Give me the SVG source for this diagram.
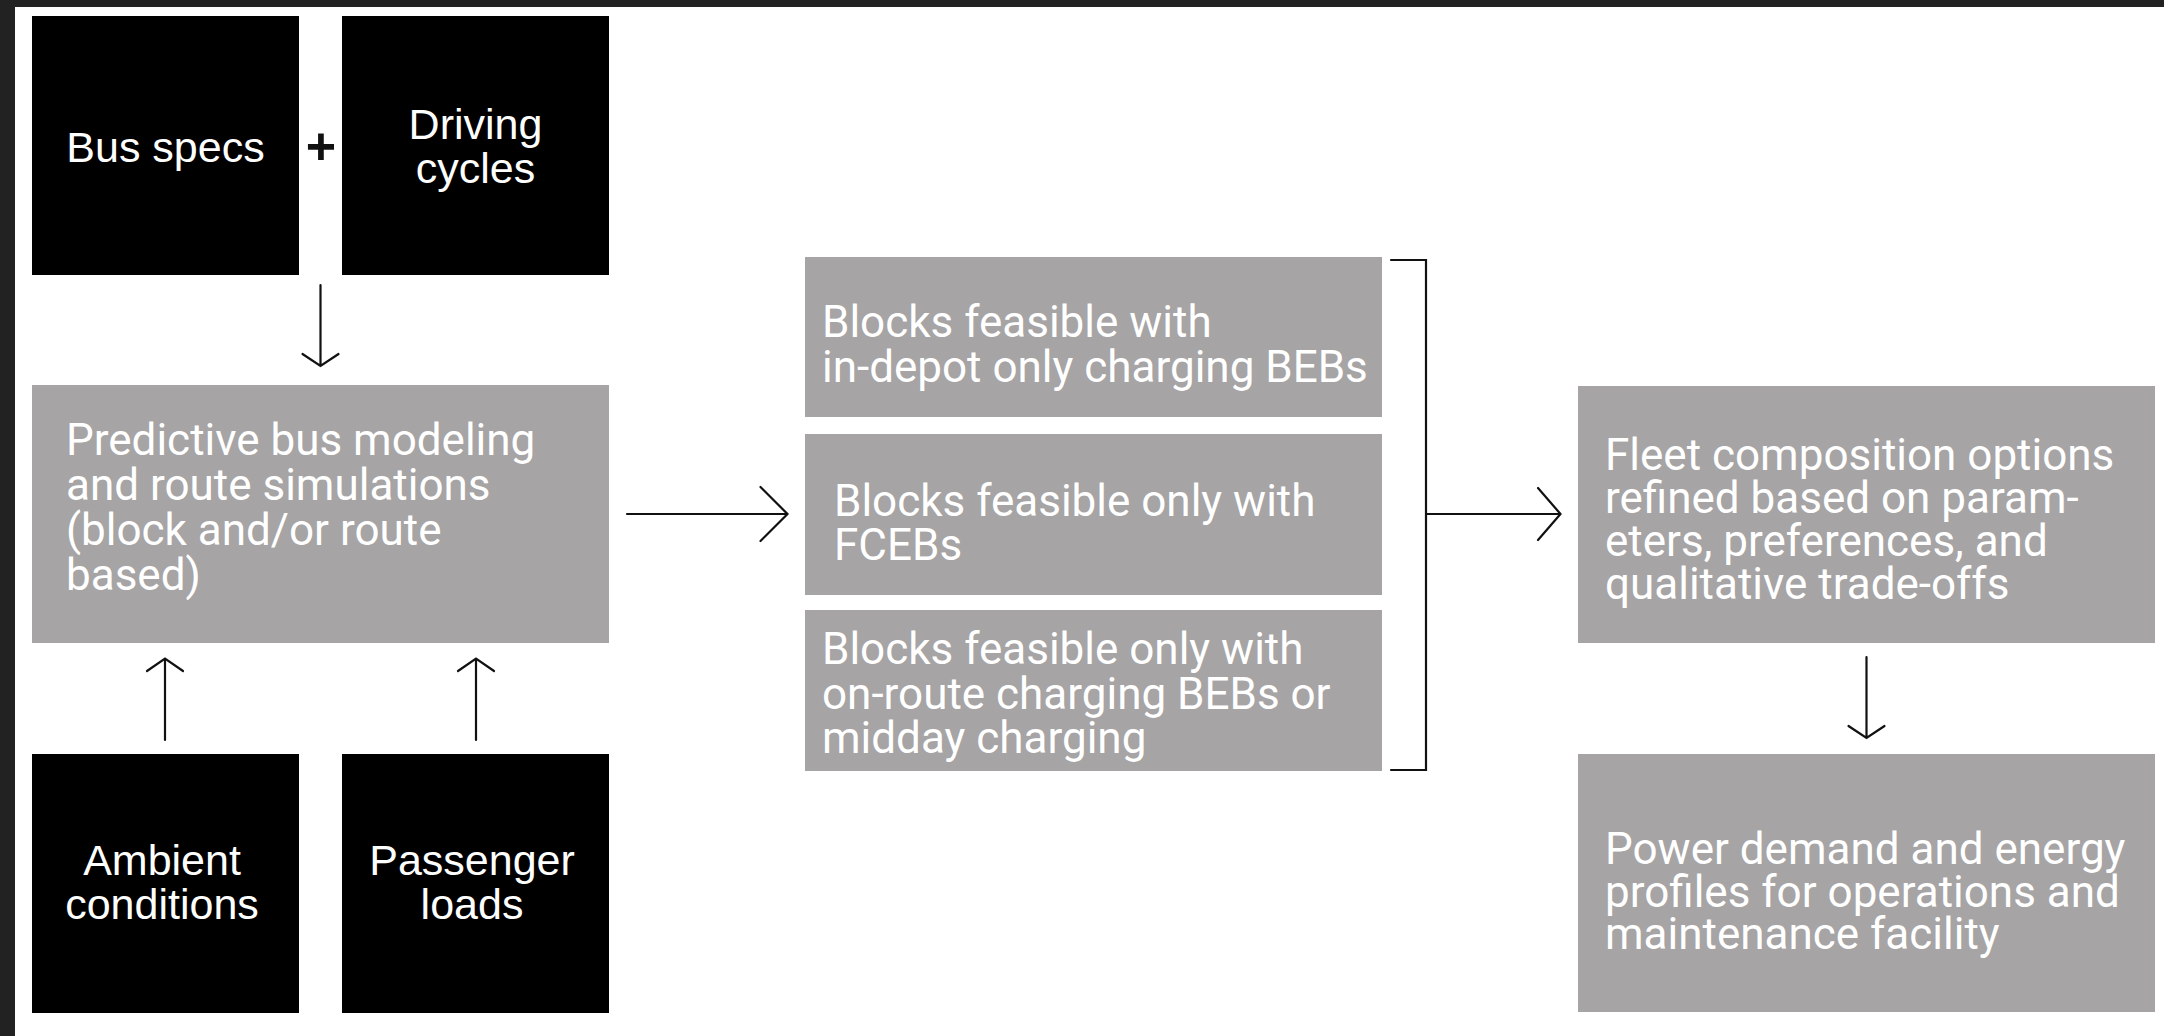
<svg xmlns="http://www.w3.org/2000/svg" width="2164" height="1036" viewBox="0 0 2164 1036">
  <style>
    .dark { fill: #000000; }
    .grey { fill: #a6a4a5; }
    .lbl-dark { font-family: "Liberation Sans", Arial, sans-serif; font-size: 43px; fill: #ffffff; text-anchor: middle; }
    .lbl-grey { font-family: Roboto, "Noto Sans", sans-serif; font-size: 44px; fill: #ffffff; }
    .wire { fill: none; stroke: #111111; stroke-width: 2.2; stroke-linecap: round; stroke-linejoin: miter; }
  </style>

  <!-- page frame -->
  <rect x="0" y="0" width="2164" height="1036" fill="#222222"/>
  <rect x="15" y="7" width="2149" height="1029" fill="#ffffff"/>

  <!-- inputs -->
  <g id="bus-specs">
    <rect class="dark" x="32" y="16" width="267" height="259"/>
    <text class="lbl-dark" x="165.5" y="162">Bus specs</text>
  </g>
  <g id="plus">
    <text x="321" y="164" font-family="Liberation Sans, Arial, sans-serif" font-size="52" font-weight="bold" fill="#111111" text-anchor="middle">+</text>
  </g>
  <g id="driving-cycles">
    <rect class="dark" x="342" y="16" width="267" height="259"/>
    <text class="lbl-dark" x="475.5" y="139">Driving</text>
    <text class="lbl-dark" x="475.5" y="183">cycles</text>
  </g>
  <g id="ambient-conditions">
    <rect class="dark" x="32" y="754" width="267" height="259"/>
    <text class="lbl-dark" x="162" y="875">Ambient</text>
    <text class="lbl-dark" x="162" y="919">conditions</text>
  </g>
  <g id="passenger-loads">
    <rect class="dark" x="342" y="754" width="267" height="259"/>
    <text class="lbl-dark" x="472" y="875">Passenger</text>
    <text class="lbl-dark" x="472" y="919">loads</text>
  </g>

  <!-- simulation -->
  <g id="predictive-modeling">
    <rect class="grey" x="32" y="385" width="577" height="258"/>
    <text class="lbl-grey" x="66" y="455">Predictive bus modeling</text>
    <text class="lbl-grey" x="66" y="500">and route simulations</text>
    <text class="lbl-grey" x="66" y="545">(block and/or route</text>
    <text class="lbl-grey" x="66" y="590">based)</text>
  </g>

  <!-- feasibility outcomes -->
  <g id="in-depot-beb">
    <rect class="grey" x="805" y="257" width="577" height="160"/>
    <text class="lbl-grey" x="822" y="337">Blocks feasible with</text>
    <text class="lbl-grey" x="822" y="382">in-depot only charging BEBs</text>
  </g>
  <g id="fceb-only">
    <rect class="grey" x="805" y="434" width="577" height="161"/>
    <text class="lbl-grey" x="834" y="516">Blocks feasible only with</text>
    <text class="lbl-grey" x="834" y="560">FCEBs</text>
  </g>
  <g id="on-route-beb">
    <rect class="grey" x="805" y="610" width="577" height="161"/>
    <text class="lbl-grey" x="822" y="664">Blocks feasible only with</text>
    <text class="lbl-grey" x="822" y="709">on-route charging BEBs or</text>
    <text class="lbl-grey" x="822" y="753">midday charging</text>
  </g>

  <!-- results -->
  <g id="fleet-composition">
    <rect class="grey" x="1578" y="386" width="577" height="257"/>
    <text class="lbl-grey" x="1605" y="470">Fleet composition options</text>
    <text class="lbl-grey" x="1605" y="513">refined based on param-</text>
    <text class="lbl-grey" x="1605" y="556">eters, preferences, and</text>
    <text class="lbl-grey" x="1605" y="599">qualitative trade-offs</text>
  </g>
  <g id="power-demand">
    <rect class="grey" x="1578" y="754" width="577" height="258"/>
    <text class="lbl-grey" x="1605" y="864">Power demand and energy</text>
    <text class="lbl-grey" x="1605" y="907">profiles for operations and</text>
    <text class="lbl-grey" x="1605" y="949">maintenance facility</text>
  </g>

  <!-- connectors -->
  <g id="connectors" class="wire">
    <!-- inputs into simulation -->
    <path d="M320.5 285 V366 M302.5 354 L320.5 366 L338.5 354"/>
    <path d="M165 740 V658.5 M147 671 L165 658.5 L183 671"/>
    <path d="M476 740 V658.5 M458 671 L476 658.5 L494 671"/>
    <!-- simulation to outcomes -->
    <path d="M627 514 H787.5 M760.5 487 L787.5 514 L760.5 541"/>
    <!-- bracket grouping outcomes -->
    <path d="M1391 260 H1426 V770 H1391"/>
    <path d="M1426 514 H1560.5 M1538 488 L1560.5 514 L1538 540"/>
    <!-- fleet to power -->
    <path d="M1866.5 657 V738 M1848.5 726 L1866.5 738 L1884.5 726"/>
  </g>
</svg>
